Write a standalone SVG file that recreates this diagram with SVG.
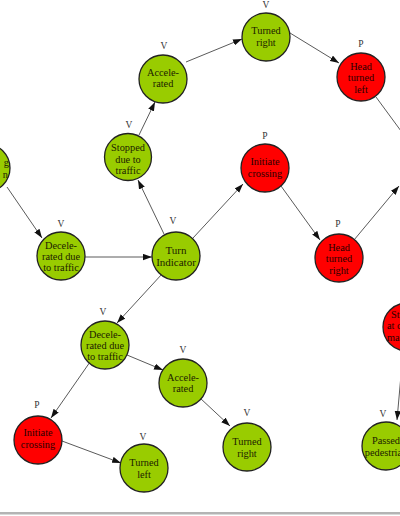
<svg xmlns="http://www.w3.org/2000/svg" width="400" height="516" viewBox="0 0 400 516">
<style>
.n circle{stroke:#222;stroke-width:1.3}
.g circle{fill:#99cc00}
.r circle{fill:#ff0000}
.n text{font-family:"Liberation Serif","DejaVu Serif",serif;font-size:10.3px;text-anchor:middle;dominant-baseline:central}
.g text.t{fill:#1c2200}
.r text.t{fill:#2a0000}
.n text.l{fill:#333;font-size:9.5px}
.e line{stroke:#5a5a5a;stroke-width:1;marker-end:url(#ah)}
.e line.nm{marker-end:none}
</style>
<defs>
<marker id="ah" markerUnits="userSpaceOnUse" markerWidth="9" markerHeight="7" viewBox="0 0 10 7" refX="10" refY="3.5" orient="auto">
<path d="M0,0 L10,3.5 L0,7 z" fill="#111"/>
</marker>
</defs>
<rect width="400" height="516" fill="#fff"/>
<g id="edges" class="e">
<line x1="7" y1="187" x2="42" y2="238"/>
<line x1="85" y1="257" x2="152" y2="257"/>
<line x1="164" y1="234" x2="138" y2="180"/>
<line x1="139" y1="135" x2="155" y2="102"/>
<line x1="186" y1="62" x2="242" y2="39"/>
<line x1="290" y1="33" x2="339" y2="63"/>
<line class="nm" x1="376" y1="97" x2="401" y2="131"/>
<line x1="193" y1="238" x2="243" y2="184"/>
<line x1="281" y1="186" x2="320" y2="240"/>
<line x1="354" y1="240" x2="399" y2="186"/>
<line x1="162" y1="274" x2="117" y2="323"/>
<line x1="127" y1="355" x2="163" y2="370"/>
<line x1="200" y1="398" x2="230" y2="426"/>
<line x1="90" y1="362" x2="51" y2="418"/>
<line x1="62" y1="441" x2="121" y2="463"/>
<line x1="401" y1="375" x2="397" y2="420"/>
</g>
<g id="n_left" class="n g">
<circle cx="-14" cy="168" r="24"/>
<text class="t" x="9" y="162" style="text-anchor:end">g</text>
<text class="t" x="8" y="174" style="text-anchor:end">n</text>
</g>
<g id="n_decel1" class="n g">
<text class="l" x="61" y="224">V</text>
<circle cx="61" cy="256" r="24"/>
<text class="t" x="61" y="245">Decele-</text>
<text class="t" x="61" y="256">rated due</text>
<text class="t" x="61" y="267">to traffic</text>
</g>
<g id="n_turnind" class="n g">
<text class="l" x="173" y="221">V</text>
<circle cx="176" cy="256" r="24"/>
<text class="t" x="176" y="250" style="font-size:11px">Turn</text>
<text class="t" x="176" y="262" style="font-size:11px">Indicator</text>
</g>
<g id="n_stopped" class="n g">
<text class="l" x="129" y="125">V</text>
<circle cx="128" cy="157" r="23.5"/>
<text class="t" x="128" y="147">Stopped</text>
<text class="t" x="128" y="159">due to</text>
<text class="t" x="128" y="170">traffic</text>
</g>
<g id="n_accel1" class="n g">
<text class="l" x="164" y="46">V</text>
<circle cx="163" cy="79" r="24"/>
<text class="t" x="163" y="72">Accele-</text>
<text class="t" x="163" y="83">rated</text>
</g>
<g id="n_turnedright1" class="n g">
<text class="l" x="266" y="5">V</text>
<circle cx="266" cy="37" r="24"/>
<text class="t" x="266" y="30">Turned</text>
<text class="t" x="266" y="42">right</text>
</g>
<g id="n_headleft" class="n r">
<text class="l" x="361" y="44">P</text>
<circle cx="361" cy="77" r="24"/>
<text class="t" x="361" y="66">Head</text>
<text class="t" x="361" y="77.5">turned</text>
<text class="t" x="361" y="89">left</text>
</g>
<g id="n_initiate1" class="n r">
<text class="l" x="265" y="136">P</text>
<circle cx="265" cy="168" r="24"/>
<text class="t" x="265" y="161">Initiate</text>
<text class="t" x="265" y="173">crossing</text>
</g>
<g id="n_headright" class="n r">
<text class="l" x="338" y="224">P</text>
<circle cx="339" cy="258" r="24"/>
<text class="t" x="339" y="247">Head</text>
<text class="t" x="339" y="258.5">turned</text>
<text class="t" x="339" y="270">right</text>
</g>
<g id="n_stopright" class="n r">
<circle cx="407" cy="327" r="24"/>
<text class="t" x="391" y="314" style="text-anchor:start">St</text>
<text class="t" x="387" y="325.5" style="text-anchor:start">at c</text>
<text class="t" x="387" y="337" style="text-anchor:start">ma</text>
</g>
<g id="n_passed" class="n g">
<text class="l" x="383" y="414">V</text>
<circle cx="386" cy="446" r="24"/>
<text class="t" x="386" y="440">Passed</text>
<text class="t" x="386" y="452">pedestrian</text>
</g>
<g id="n_decel2" class="n g">
<text class="l" x="103" y="312">V</text>
<circle cx="105" cy="345" r="24"/>
<text class="t" x="105" y="334">Decele-</text>
<text class="t" x="105" y="345">rated due</text>
<text class="t" x="105" y="356">to traffic</text>
</g>
<g id="n_accel2" class="n g">
<text class="l" x="183" y="350">V</text>
<circle cx="183" cy="383" r="24"/>
<text class="t" x="183" y="377">Accele-</text>
<text class="t" x="183" y="388">rated</text>
</g>
<g id="n_turnedright2" class="n g">
<text class="l" x="247" y="413">V</text>
<circle cx="247" cy="447" r="24"/>
<text class="t" x="247" y="441">Turned</text>
<text class="t" x="247" y="453">right</text>
</g>
<g id="n_initiate2" class="n r">
<text class="l" x="37" y="405">P</text>
<circle cx="38" cy="440" r="24"/>
<text class="t" x="38" y="432">Initiate</text>
<text class="t" x="38" y="444">crossing</text>
</g>
<g id="n_turnedleft" class="n g">
<text class="l" x="143" y="437">V</text>
<circle cx="144" cy="468" r="24"/>
<text class="t" x="144" y="462">Turned</text>
<text class="t" x="144" y="474">left</text>
</g>
<rect x="0" y="512" width="400" height="2.5" fill="#b4b4b4"/>
</svg>
